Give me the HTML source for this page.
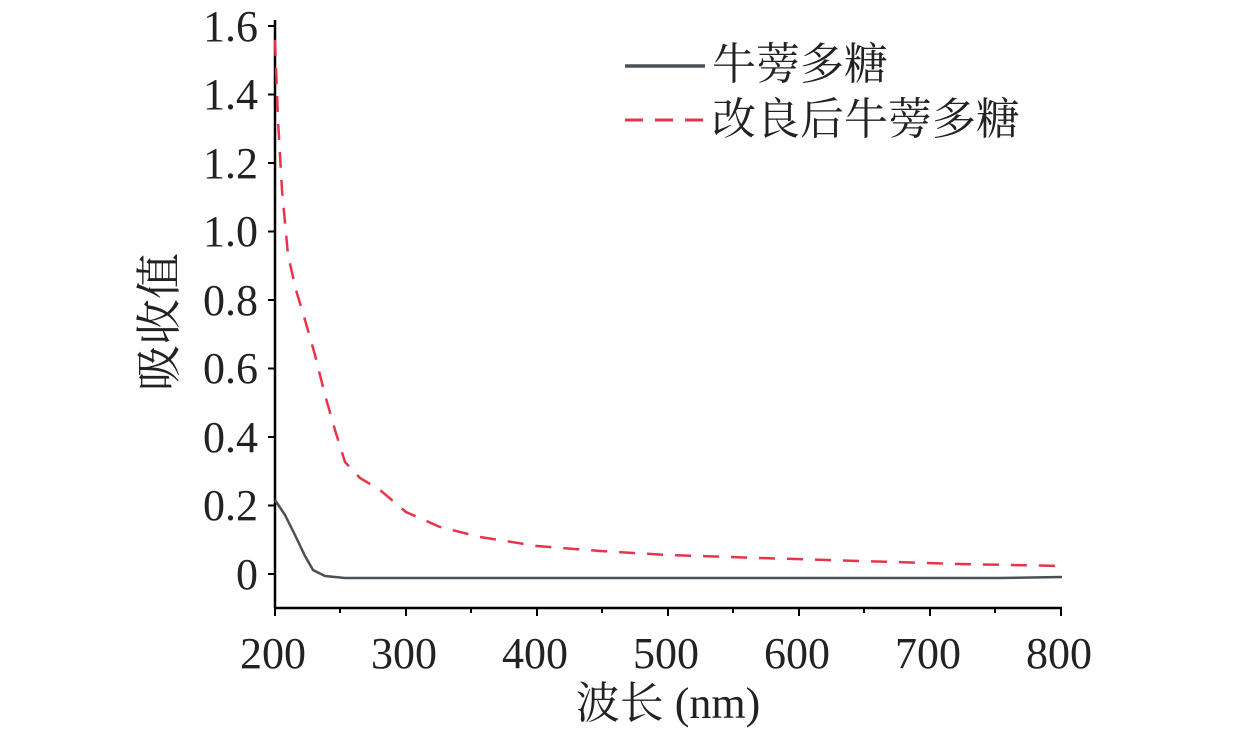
<!DOCTYPE html>
<html><head><meta charset="utf-8"><style>body{margin:0;background:#fff}</style></head><body>
<svg width="1260" height="729" xmlns="http://www.w3.org/2000/svg" font-family="Liberation Serif, Noto Serif CJK SC, serif">
<rect width="1260" height="729" fill="#fff"/>
<g stroke="#000" stroke-width="2.5" fill="none">
<line x1="275" y1="20" x2="275" y2="608"/>
<line x1="275" y1="608" x2="1062" y2="608"/>
<g stroke-width="2">
<line x1="268" y1="574" x2="275" y2="574"/><line x1="268" y1="505.5" x2="275" y2="505.5"/>
<line x1="268" y1="437" x2="275" y2="437"/><line x1="268" y1="368.5" x2="275" y2="368.5"/>
<line x1="268" y1="300" x2="275" y2="300"/><line x1="268" y1="231.5" x2="275" y2="231.5"/>
<line x1="268" y1="163" x2="275" y2="163"/><line x1="268" y1="94.5" x2="275" y2="94.5"/>
<line x1="268" y1="26" x2="275" y2="26"/>
<line x1="275" y1="608" x2="275" y2="616"/><line x1="406" y1="608" x2="406" y2="616"/>
<line x1="537" y1="608" x2="537" y2="616"/><line x1="668" y1="608" x2="668" y2="616"/>
<line x1="799" y1="608" x2="799" y2="616"/><line x1="930" y1="608" x2="930" y2="616"/>
<line x1="1061" y1="608" x2="1061" y2="616"/>
<line x1="340" y1="608" x2="340" y2="613"/><line x1="471" y1="608" x2="471" y2="613"/>
<line x1="602" y1="608" x2="602" y2="613"/><line x1="733" y1="608" x2="733" y2="613"/>
<line x1="864" y1="608" x2="864" y2="613"/><line x1="995" y1="608" x2="995" y2="613"/>
</g></g>
<g font-size="44" fill="#222" text-anchor="end">
<text x="258" y="589">0</text><text x="258" y="520">0.2</text><text x="258" y="452">0.4</text>
<text x="258" y="383">0.6</text><text x="258" y="315">0.8</text><text x="258" y="246">1.0</text>
<text x="258" y="178">1.2</text><text x="258" y="109">1.4</text><text x="258" y="41">1.6</text>
</g>
<g font-size="44" fill="#222" text-anchor="middle">
<text x="273" y="668">200</text><text x="404" y="668">300</text><text x="535" y="668">400</text>
<text x="666" y="668">500</text><text x="797" y="668">600</text><text x="928" y="668">700</text>
<text x="1059" y="668">800</text>
<text x="668" y="718">波长 (nm)</text>
</g>
<text font-size="46" fill="#222" text-anchor="middle" transform="translate(175,322) rotate(-90)">吸收值</text>
<path d="M275,40 L278,120 L282,190 L288,255 L296,290 L305,320 L315,355 L325,395 L335,430 L345,462 L360,478 L380,490 L406,512 L440,527 L480,537 L537,546 L600,551 L668,555 L760,558 L860,561 L960,564 L1062,566" fill="none" stroke="#e8344a" stroke-width="2.5" stroke-dasharray="16,12"/>
<path d="M275,500 L285,515 L295,535 L305,556 L313,570 L325,576 L345,578 L1000,578 L1062,577" fill="none" stroke="#4a5055" stroke-width="2.5"/>
<line x1="625" y1="66" x2="705" y2="66" stroke="#4a5055" stroke-width="3.5"/>
<line x1="625" y1="120" x2="705" y2="120" stroke="#e8344a" stroke-width="3" stroke-dasharray="18,12"/>
<g font-size="44" fill="#222"><text x="712" y="79">牛蒡多糖</text><text x="712" y="134">改良后牛蒡多糖</text></g>
</svg>
</body></html>
